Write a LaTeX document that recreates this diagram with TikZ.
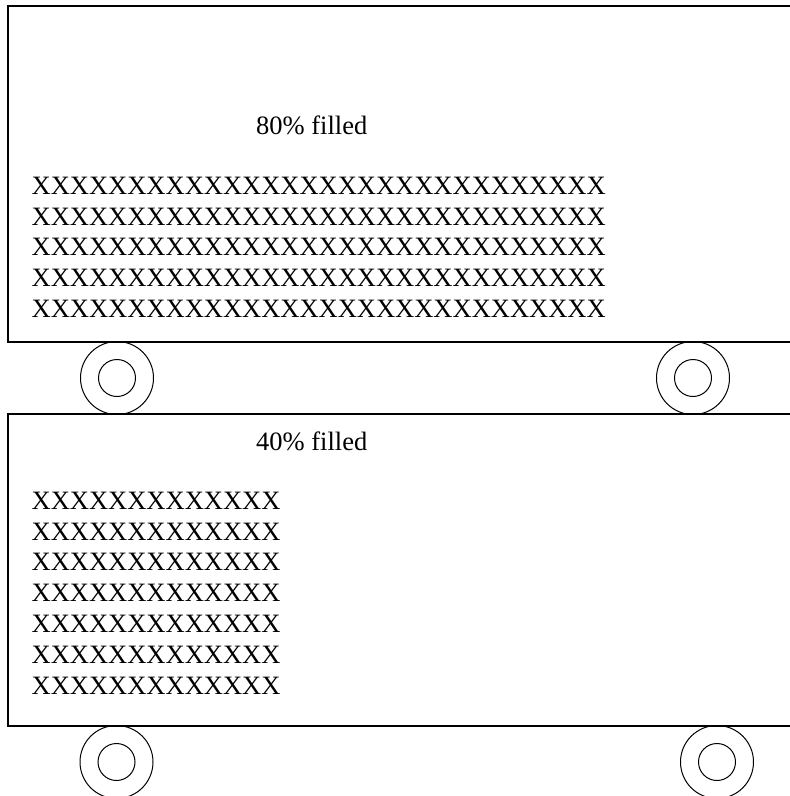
\documentclass[tikz,border=0pt]{standalone}
\usepackage{fontspec}
\setmainfont{Liberation Serif}
\newcommand{\cartfont}{\fontsize{26.5}{30.8}\selectfont}
\tikzset{
  cartline/.style={line width=1.6pt},
  wheelline/.style={line width=1pt},
  xrow/.style={anchor=base west, inner sep=0pt, font=\cartfont},
  filllabel/.style={anchor=base west, inner sep=0pt, font=\cartfont}
}

\begin{document}
\begin{tikzpicture}[x=1pt,y=-1pt]
\useasboundingbox (0,0) rectangle (790,796);
% upper cart
  \draw[cartline] (800,6) -- (8,6) -- (8,342) -- (800,342);
  \node[filllabel] (lbl80) at (256,134) {80\% filled};
  \node[xrow] (t1) at (31.5,194.2) {XXXXXXXXXXXXXXXXXXXXXXXXXXXXXX};
  \node[xrow] (t2) at (31.5,225.0) {XXXXXXXXXXXXXXXXXXXXXXXXXXXXXX};
  \node[xrow] (t3) at (31.5,255.8) {XXXXXXXXXXXXXXXXXXXXXXXXXXXXXX};
  \node[xrow] (t4) at (31.5,286.6) {XXXXXXXXXXXXXXXXXXXXXXXXXXXXXX};
  \node[xrow] (t5) at (31.5,317.4) {XXXXXXXXXXXXXXXXXXXXXXXXXXXXXX};
  \draw[wheelline] (117,378) circle (36.5) (117,378) circle (18.5);
  \draw[wheelline] (693,378) circle (36.5) (693,378) circle (18.5);
% lower cart
  \draw[cartline] (800,414) -- (8,414) -- (8,726) -- (800,726);
  \node[filllabel] (lbl40) at (256,450) {40\% filled};
  \node[xrow] (b1) at (31.5,509.2) {XXXXXXXXXXXXX};
  \node[xrow] (b2) at (31.5,540.0) {XXXXXXXXXXXXX};
  \node[xrow] (b3) at (31.5,570.8) {XXXXXXXXXXXXX};
  \node[xrow] (b4) at (31.5,601.6) {XXXXXXXXXXXXX};
  \node[xrow] (b5) at (31.5,632.4) {XXXXXXXXXXXXX};
  \node[xrow] (b6) at (31.5,663.2) {XXXXXXXXXXXXX};
  \node[xrow] (b7) at (31.5,694.0) {XXXXXXXXXXXXX};
  \draw[wheelline] (116.5,762) circle (36.5) (116.5,762) circle (18.5);
  \draw[wheelline] (717,762) circle (36.5) (717,762) circle (18.5);
\end{tikzpicture}
\end{document}
